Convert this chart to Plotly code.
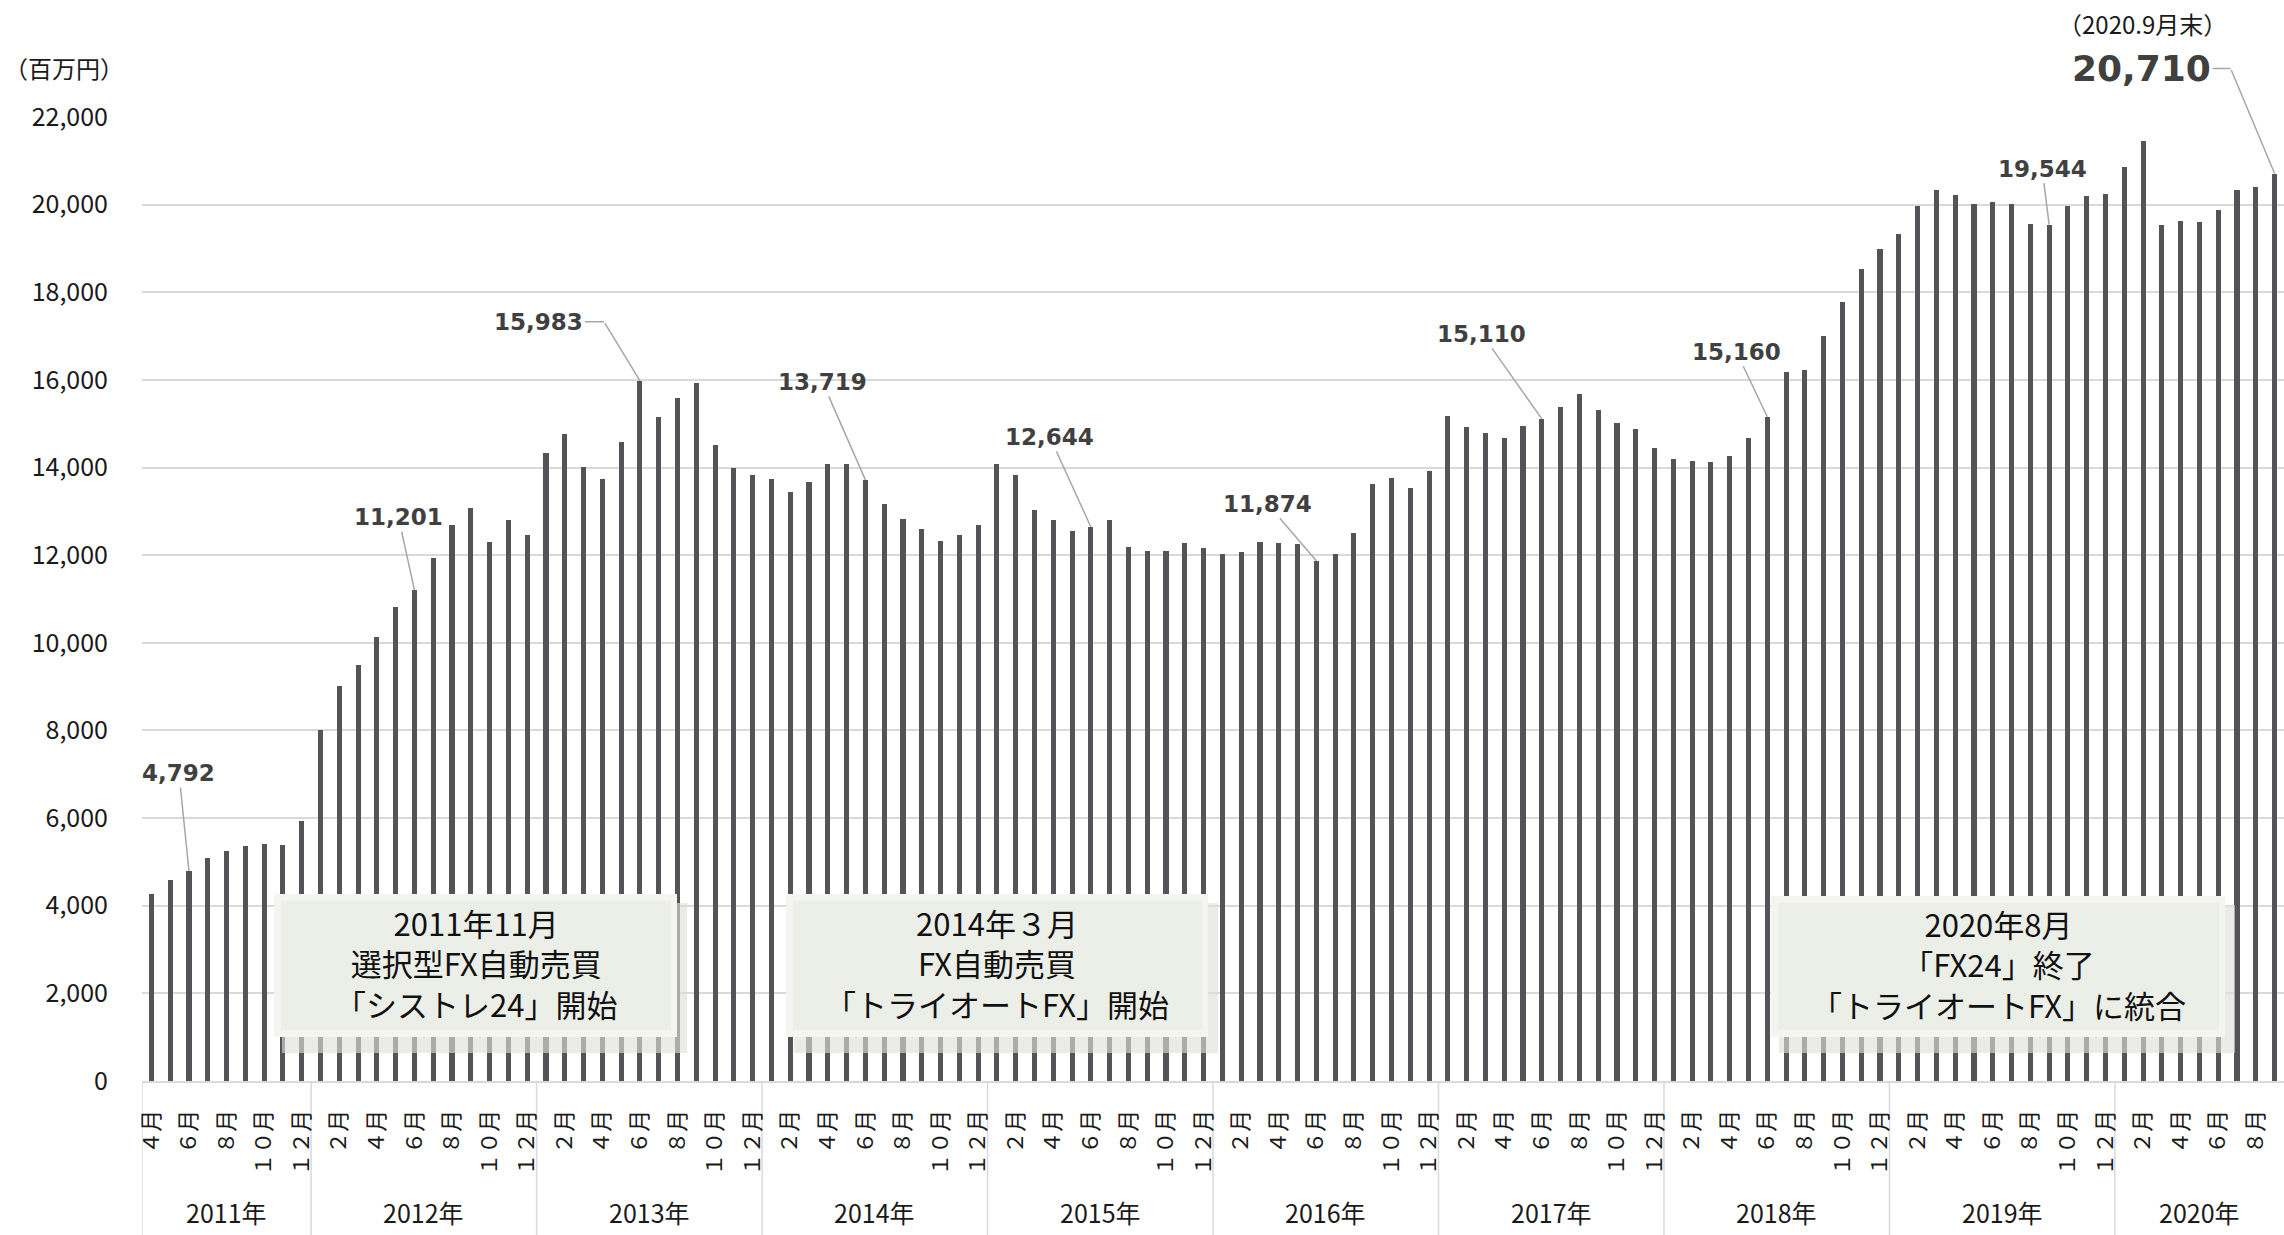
import plotly.graph_objects as go

# ---------------- data ----------------
year_names = ["2011年", "2012年", "2013年", "2014年", "2015年",
              "2016年", "2017年", "2018年", "2019年", "2020年"]
first_month = [4, 1, 1, 1, 1, 1, 1, 1, 1, 1]

v2011 = [4266, 4586, 4792, 5080, 5247, 5354, 5399, 5376, 5924]
v2012 = [8000, 9006, 9501, 10133, 10827, 11201, 11939, 12693, 13074, 12297, 12800, 12457]
v2013 = [14331, 14758, 14011, 13745, 14583, 15983, 15154, 15596, 15939, 14514, 14000, 13829]
v2014 = [13730, 13444, 13673, 14084, 14084, 13719, 13163, 12835, 12607, 12325, 12455, 12690]
v2015 = [14076, 13825, 13026, 12812, 12546, 12644, 12812, 12196, 12105, 12105, 12287, 12165]
v2016 = [12036, 12081, 12302, 12287, 12249, 11874, 12036, 12508, 13619, 13772, 13543, 13924]
v2017 = [15180, 14929, 14784, 14678, 14959, 15110, 15386, 15680, 15304, 15016, 14880, 14448]
v2018 = [14192, 14160, 14136, 14256, 14672, 15160, 16176, 16224, 17008, 17768, 18520, 18990]
v2019 = [19340, 19962, 20334, 20220, 20008, 20061, 20023, 19567, 19544, 19970, 20197, 20250]
v2020 = [20858, 21442, 19537, 19628, 19598, 19886, 20334, 20410, 20710]
yearly = [v2011, v2012, v2013, v2014, v2015, v2016, v2017, v2018, v2019, v2020]

# labelled bars: (year, month)
callout_months = [(2011, 6), (2012, 6), (2014, 6), (2015, 6), (2016, 6),
                  (2017, 6), (2018, 6), (2019, 9)]
elbow_months = [(2013, 6), (2020, 9)]

box_texts = ["2011年11月<br>選択型FX自動売買<br>「シストレ24」開始",
             "2014年３月<br>FX自動売買<br>「トライオートFX」開始",
             "2020年8月<br>「FX24」終了<br>「トライオートFX」に統合"]

unit_label = "（百万円）"
latest_label = "（2020.9月末）"

# ---------------- build series ----------------
values, months, years_num = [], [], []
year_start = []
for yi, vals in enumerate(yearly):
    year_start.append(len(values))
    for k, v in enumerate(vals):
        values.append(v)
        months.append(first_month[yi] + k)
        years_num.append(2011 + yi)
n = len(values)
idx = list(range(n))


def month_index(y, m):
    for i in range(n):
        if years_num[i] == y and months[i] == m:
            return i


fw = str.maketrans("0123456789", "０１２３４５６７８９")
tick_idx = [i for i in idx if months[i] % 2 == 0]
tick_txt = [(str(months[i]) + "月").translate(fw) for i in tick_idx]

# ---------------- layout helpers ----------------
W, H = 2284, 1235
L, R, T, B = 142, 0, 117, 154
PW, PH = W - L - R, H - T - B


def px(x):
    return (x - L) / PW


def py(y):
    return (H - B - y) / PH


BAR = "#545458"
GRID = "#D9D9D9"
LEAD = "#A6A6A6"
LBL = "#404040"
JP = "Noto Sans CJK JP"
NUM = "DejaVu Sans"

fig = go.Figure()
fig.add_trace(go.Bar(x=idx, y=values, width=0.27,
                     marker=dict(color=BAR, line_width=0),
                     hoverinfo="skip"))

shapes = []
# year dividers
for s in year_start:
    shapes.append(dict(type="line", xref="x", yref="paper", x0=s - 0.5, x1=s - 0.5,
                       y0=0, y1=-0.2, line=dict(color=GRID, width=1.5), layer="below"))

# annotation boxes (shadow, border, fill)
boxes = [(274, 677, 894, 1037), (786, 1208, 894, 1037), (1771, 2225, 896, 1037)]
for (x0, x1, y0, y1) in boxes:
    shapes.append(dict(type="rect", xref="paper", yref="paper",
                       x0=px(x0 + 8), x1=px(x1 + 10), y0=py(y0 + 9), y1=py(y1 + 16),
                       fillcolor="rgba(222,221,216,0.63)", line_width=0, layer="above"))
    shapes.append(dict(type="rect", xref="paper", yref="paper",
                       x0=px(x0), x1=px(x1), y0=py(y0), y1=py(y1),
                       fillcolor="#F4F4F1", line_width=0, layer="above"))
    shapes.append(dict(type="rect", xref="paper", yref="paper",
                       x0=px(x0 + 7), x1=px(x1 - 6), y0=py(y0 + 7), y1=py(y1 - 7),
                       fillcolor="#ECEFE7", line_width=0, layer="above"))

annotations = []
for (x0, x1, y0, y1), t in zip(boxes, box_texts):
    annotations.append(dict(xref="paper", yref="paper", x=px((x0 + x1) / 2), y=py((y0 + y1) / 2 - 3),
                            text=t, showarrow=False, xanchor="center", yanchor="middle",
                            font=dict(family=JP, size=31, color="#111111")))

# year labels
for yi, s in enumerate(year_start):
    e = s + len(yearly[yi]) - 1
    annotations.append(dict(xref="x", yref="paper", x=(s + e) / 2, y=py(1212),
                            text=year_names[yi], showarrow=False,
                            xanchor="center", yanchor="middle",
                            font=dict(family=JP, size=25, color="#1a1a1a")))

# simple call-outs (text offset in pixels from bar top)
offsets = [(-10, -98), (-16, -73), (-43, -98), (-41, -90), (-49, -57),
           (-60, -85), (-31, -65), (-7, -56)]
for (yy, mm), (ax, ay) in zip(callout_months, offsets):
    i = month_index(yy, mm)
    annotations.append(dict(xref="x", yref="y", x=i, y=values[i], text=f"{values[i]:,}",
                            showarrow=True, arrowhead=0, arrowwidth=1.5, arrowcolor=LEAD,
                            ax=ax, ay=ay, axref="pixel", ayref="pixel",
                            font=dict(family=NUM, size=23, color=LBL, weight="bold")))

# elbow call-outs
elbows = [((-36, -59), -65, 23), ((-44, -105), -89, 36)]
for (yy, mm), ((ex, ey), tx, fs) in zip(elbow_months, elbows):
    i = month_index(yy, mm)
    annotations.append(dict(xref="x", yref="y", x=i, y=values[i], text="",
                            showarrow=True, arrowhead=0, arrowwidth=1.5, arrowcolor=LEAD,
                            ax=ex, ay=ey, axref="pixel", ayref="pixel"))
    annotations.append(dict(xref="x", yref="y", x=i, y=values[i], text=f"{values[i]:,}",
                            xshift=ex, yshift=-ey,
                            showarrow=True, arrowhead=0, arrowwidth=1.5, arrowcolor=LEAD,
                            ax=tx, ay=0, axref="pixel", ayref="pixel",
                            font=dict(family=NUM, size=fs, color=LBL, weight="bold")))

annotations.append(dict(xref="paper", yref="paper", x=px(64), y=py(68), text=unit_label,
                        showarrow=False, xanchor="center", yanchor="middle",
                        font=dict(family=JP, size=24, color="#1a1a1a")))
annotations.append(dict(xref="paper", yref="paper", x=px(2142), y=py(24), text=latest_label,
                        showarrow=False, xanchor="center", yanchor="middle",
                        font=dict(family=JP, size=24, color="#1a1a1a")))

fig.update_layout(
    width=W, height=H,
    margin=dict(l=L, r=R, t=T, b=B, autoexpand=False),
    plot_bgcolor="white", paper_bgcolor="white",
    showlegend=False, bargap=0,
    font=dict(family=JP, color="#1a1a1a"),
    shapes=shapes, annotations=annotations,
)
fig.update_xaxes(range=[-0.5, n - 0.5], tickmode="array", tickvals=tick_idx, ticktext=tick_txt,
                 tickangle=-90, tickfont=dict(family=JP, size=22, color="#1a1a1a"),
                 showgrid=False, zeroline=False, showline=True, linecolor=GRID, linewidth=2,
                 ticks="", ticklabelstandoff=18, fixedrange=True)
fig.update_yaxes(range=[0, 22000], tickmode="linear", tick0=0, dtick=2000, tickformat=",",
                 showgrid=True, gridcolor=GRID, gridwidth=1.5, zeroline=False,
                 tickfont=dict(family=JP, size=25, color="#1a1a1a"),
                 ticks="", ticklabelstandoff=33, fixedrange=True)

fig.write_html("out.html", config={"displayModeBar": False},
               post_script="document.body.style.margin='0';document.body.style.overflow='hidden';")
